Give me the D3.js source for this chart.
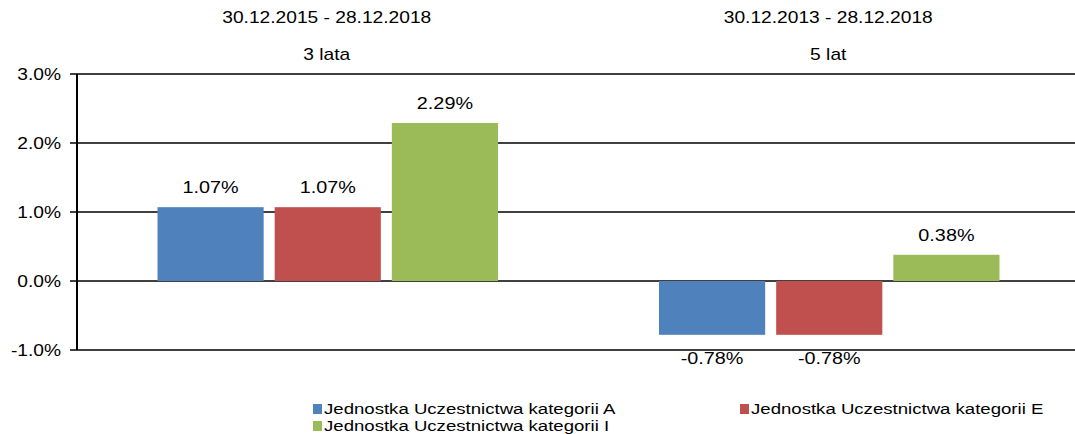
<!DOCTYPE html>
<html>
<head>
<meta charset="utf-8">
<script src="https://cdn.jsdelivr.net/npm/d3@7"></script>
<style>
body { margin: 0; background: #fff; }
text { font-family: "Liberation Sans", Arial, sans-serif; fill: #000; }
</style>
</head>
<body>
<svg id="svg"></svg>
<script>
var width = 1075, height = 434;

var periods = ["30.12.2015 - 28.12.2018", "30.12.2013 - 28.12.2018"];
var periodNames = ["3 lata", "5 lat"];
var seriesNames = ["Jednostka Uczestnictwa kategorii A", "Jednostka Uczestnictwa kategorii E", "Jednostka Uczestnictwa kategorii I"];
var seriesA = [1.07, -0.78];
var seriesE = [1.07, -0.78];
var seriesI = [2.29, 0.38];
var yTicks = [-1, 0, 1, 2, 3];
var colors = ["#4f81bd", "#c0504d", "#9bbb59"];

var svg = d3.select("#svg").attr("width", width).attr("height", height);

var plotLeft = 77, plotRight = 1080, plotTop = 74, plotBottom = 350;
var sx = 1.2; // text in the original is stretched sideways

function place(x, yy) { return "translate(" + x + "," + yy + ") scale(" + sx + ",1)"; }

var x0 = d3.scaleBand().domain(periods).range([plotLeft, plotRight]);
var x1 = d3.scaleBand()
	.domain(seriesNames)
	.range([80.5, x0.bandwidth() - 80.5])
	.paddingInner(0.094);
var y = d3.scaleLinear().domain([-1, 3]).range([plotBottom, plotTop]);

// gridlines
svg.append("g")
	.selectAll("line")
	.data(yTicks)
	.enter().append("line")
	.attr("x1", plotLeft - 7)
	.attr("x2", plotRight)
	.attr("y1", function(d) { return y(d); })
	.attr("y2", function(d) { return y(d); })
	.attr("stroke", "#000")
	.attr("stroke-width", 1.5);

svg.append("line")
	.attr("x1", plotLeft).attr("x2", plotLeft)
	.attr("y1", plotTop).attr("y2", plotBottom)
	.attr("stroke", "#000").attr("stroke-width", 2);

svg.append("g")
	.selectAll("text")
	.data(yTicks)
	.enter().append("text")
	.attr("transform", function(d) { return place(61, y(d)); })
	.attr("dy", "0.35em")
	.attr("text-anchor", "end")
	.attr("font-size", 16)
	.text(function(d) { return d.toFixed(1) + "%"; });

// headers
svg.append("g").selectAll("text")
	.data(periods)
	.enter().append("text")
	.attr("transform", function(d) { return place(x0(d) + x0.bandwidth() / 2 - 1, 23); })
	.attr("text-anchor", "middle")
	.attr("font-size", 16)
	.text(function(d) { return d; });

svg.append("g").selectAll("text")
	.data(periodNames)
	.enter().append("text")
	.attr("transform", function(d, i) { return place(x0(periods[i]) + x0.bandwidth() / 2 - 1, 60); })
	.attr("text-anchor", "middle")
	.attr("font-size", 16)
	.text(function(d) { return d; });

var rows = periods.map(function(p, i) {
	return [seriesA[i], seriesE[i], seriesI[i]].map(function(v, j) {
		return {period: p, key: seriesNames[j], value: v, color: colors[j]};
	});
});

var groups = svg.append("g")
	.selectAll("g")
	.data(rows)
	.enter().append("g")
	.attr("transform", function(d) { return "translate(" + x0(d[0].period) + ",0)"; });

groups.selectAll("rect")
	.data(function(d) { return d; })
	.enter().append("rect")
	.attr("x", function(d) { return x1(d.key); })
	.attr("y", function(d) { return y(Math.max(0, d.value)); })
	.attr("width", x1.bandwidth())
	.attr("height", function(d) { return Math.abs(y(d.value) - y(0)); })
	.attr("fill", function(d) { return d.color; });

groups.selectAll("text")
	.data(function(d) { return d; })
	.enter().append("text")
	.attr("transform", function(d) {
		var ty = d.value >= 0 ? y(d.value) - 14 : y(d.value) + 29;
		return place(x1(d.key) + x1.bandwidth() / 2, ty);
	})
	.attr("text-anchor", "middle")
	.attr("font-size", 16.5)
	.text(function(d) { return d.value.toFixed(2) + "%"; });

// legend
var legendPos = [[313, 409], [740, 409], [313, 426]];
var legend = svg.append("g")
	.selectAll("g")
	.data(seriesNames)
	.enter().append("g")
	.attr("transform", function(d, i) { return "translate(" + legendPos[i][0] + "," + legendPos[i][1] + ")"; });

legend.append("rect")
	.attr("x", 0).attr("y", -5)
	.attr("width", 9).attr("height", 10)
	.attr("fill", function(d, i) { return colors[i]; });

legend.append("text")
	.attr("transform", place(11, 0))
	.attr("dy", "0.35em")
	.attr("font-size", 15.5)
	.text(function(d) { return d; });
</script>
</body>
</html>
